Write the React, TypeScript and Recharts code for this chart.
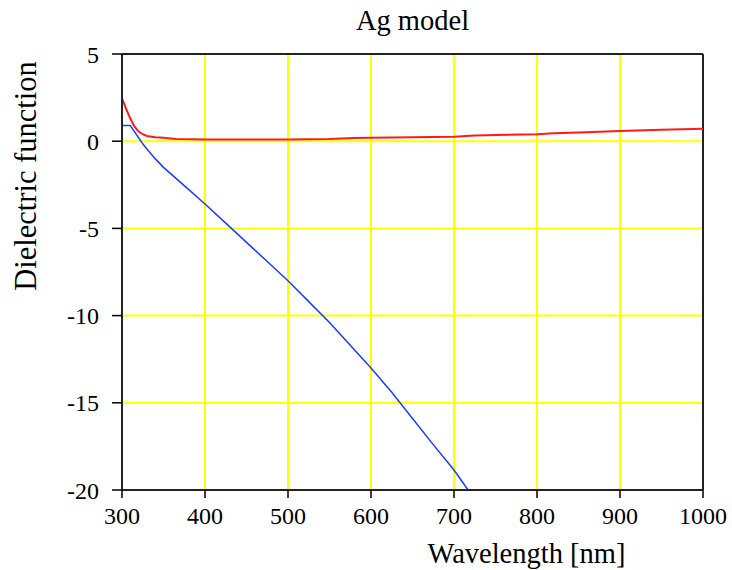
import {
  CartesianGrid,
  Label,
  Line,
  LineChart,
  ReferenceLine,
  XAxis,
  YAxis,
} from "recharts";

// wavelength (nm) and dielectric function values
const redWavelength = [300, 305, 310, 315, 320, 325, 330, 340, 350, 365, 400, 450, 500, 550, 580, 600, 650, 700, 725, 750, 800, 820, 850, 900, 950, 1000];
const redValues = [2.45, 1.85, 1.3, 0.85, 0.55, 0.4, 0.3, 0.23, 0.2, 0.13, 0.1, 0.1, 0.1, 0.12, 0.18, 0.2, 0.22, 0.25, 0.33, 0.36, 0.4, 0.45, 0.5, 0.58, 0.66, 0.72];

const blueWavelength = [300, 310, 315, 320, 325, 330, 340, 350, 375, 400, 425, 450, 475, 500, 525, 550, 575, 600, 625, 650, 675, 700, 717];
const blueValues = [0.9, 0.9, 0.55, 0.2, -0.15, -0.45, -1.0, -1.5, -2.55, -3.6, -4.7, -5.8, -6.9, -8.0, -9.2, -10.4, -11.7, -13.0, -14.4, -15.9, -17.4, -18.85, -20.0];

const xTicks = [300, 400, 500, 600, 700, 800, 900, 1000];
const yTicks = [5, 0, -5, -10, -15, -20];

const redData = redWavelength.map((w, i) => ({ w, v: redValues[i] }));
const blueData = blueWavelength.map((w, i) => ({ w, v: blueValues[i] }));

const FONT = "'Liberation Serif', 'Times New Roman', serif";
const tickStyle = { fill: "#000", fontSize: 24, fontFamily: FONT };

function XLabel({ viewBox }: any) {
  if (!viewBox) return null;
  const x = viewBox.x + viewBox.width / 2 + 114;
  const y = viewBox.y + 73;
  return (
    <text x={x} y={y} textAnchor="middle" fill="#000" fontSize={28.5} fontFamily={FONT}>
      Wavelength [nm]
    </text>
  );
}

function YLabel({ viewBox }: any) {
  if (!viewBox) return null;
  const x = viewBox.x + 36;
  const y = 176;
  return (
    <text
      x={x}
      y={y}
      transform={`rotate(-90, ${x}, ${y})`}
      textAnchor="middle"
      fill="#000"
      fontSize={30.5}
      fontFamily={FONT}
    >
      Dielectric function
    </text>
  );
}

export default function App() {
  return (
    <div style={{ position: "absolute", left: 0, top: 0, width: 732, height: 570, background: "#fff" }}>
      <LineChart width={732} height={570} margin={{ top: 54, right: 29, left: 0, bottom: 0 }}>
        <CartesianGrid stroke="#ffff00" strokeWidth={2} />
        <XAxis
          type="number"
          dataKey="w"
          domain={[300, 1000]}
          ticks={xTicks}
          height={80}
          tick={tickStyle}
          tickSize={8}
          tickMargin={9}
          tickLine={{ stroke: "#000", strokeWidth: 1.5 }}
          axisLine={{ stroke: "#222", strokeWidth: 2 }}
        >
          <Label content={<XLabel />} />
        </XAxis>
        <YAxis
          type="number"
          domain={[-20, 5]}
          ticks={yTicks}
          width={122}
          tick={tickStyle}
          tickSize={10}
          tickMargin={13}
          tickLine={{ stroke: "#000", strokeWidth: 1.5 }}
          axisLine={{ stroke: "#222", strokeWidth: 2 }}
        >
          <Label content={<YLabel />} />
        </YAxis>
        <ReferenceLine
          y={5}
          stroke="#222"
          strokeWidth={2}
          label={{ value: "Ag model", position: "top", offset: 24, fill: "#000", fontSize: 28.5, fontFamily: FONT }}
        />
        <ReferenceLine x={1000} stroke="#222" strokeWidth={2} />
        <Line
          data={blueData}
          dataKey="v"
          type="linear"
          stroke="#1a3cff"
          strokeWidth={1.5}
          dot={false}
          isAnimationActive={false}
        />
        <Line
          data={redData}
          dataKey="v"
          type="linear"
          stroke="#ff1a1a"
          strokeWidth={2}
          dot={false}
          isAnimationActive={false}
        />
      </LineChart>
    </div>
  );
}
